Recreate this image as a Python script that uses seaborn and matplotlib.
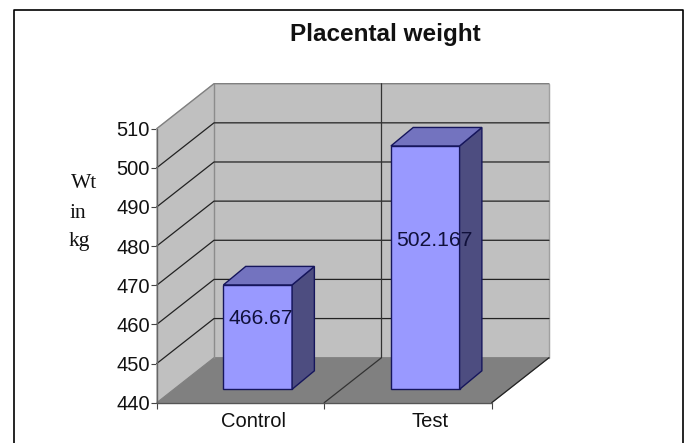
#!/bin/python3
import matplotlib
matplotlib.use("Agg")
import matplotlib.pyplot as plt
from matplotlib.lines import Line2D
from matplotlib.patches import Polygon
import seaborn as sns

categories = ["Control", "Test"]
weights = [466.67, 502.167]
value_labels = ["466.67", "502.167"]
y_ticks = [440, 450, 460, 470, 480, 490, 500, 510]

W, H = 687, 443
WALL = "#c0c0c0"
FLOOR = "#808080"
FRONT = "#9999ff"
TOP = "#7373bf"
SIDE = "#4d4d80"
EDGE = "#16165c"

sns.set_style("white")
plt.rcParams["font.family"] = ["Liberation Sans", "DejaVu Sans"]


def px_axes(fig, left, right, top, bottom):
    # axes position from picture pixels
    return fig.add_axes([left / W, 1 - bottom / H, (right - left) / W, (bottom - top) / H])


fig = plt.figure(figsize=(W / 100, H / 100), dpi=100)
ax = px_axes(fig, 156.7, 491.7, 128.7, 402.7)
ax_bar = px_axes(fig, 174, 509, 115.3, 389.3)

ax.set_xlim(-0.5, 1.5)
ax.set_ylim(440, 510)
ax.patch.set_visible(False)
for s in ax.spines.values():
    s.set_visible(False)

# depth of the floor, in data units of the front plane
dx = 57.3 / 167.5
dy = 45 / 3.914
x0, x1 = ax.get_xlim()
y0, y1 = ax.get_ylim()


def poly(pts, color, z):
    ax.add_patch(Polygon(pts, closed=True, facecolor=color, edgecolor=color, lw=0.8,
                         clip_on=False, zorder=z))


poly([(x0 + dx, y0 + dy), (x1 + dx, y0 + dy), (x1 + dx, y1 + dy), (x0 + dx, y1 + dy)], WALL, 1)
poly([(x0, y0), (x0 + dx, y0 + dy), (x0 + dx, y1 + dy), (x0, y1)], WALL, 1)
poly([(x0, y0), (x1, y0), (x1 + dx, y0 + dy), (x0 + dx, y0 + dy)], FLOOR, 2)

# wall outline
ax.plot([x0 + dx, x0 + dx], [y0 + dy, y1 + dy], color="#8c8c8c", lw=1, clip_on=False, zorder=3)
ax.plot([x1 + dx, x1 + dx], [y0 + dy, y1 + dy], color="#a0a0a0", lw=1, clip_on=False, zorder=3)
ax.plot([x0, x0 + dx, x1 + dx], [y1, y1 + dy, y1 + dy], color="#808080", lw=1, clip_on=False, zorder=3)

for t in y_ticks[1:-1]:
    ax.plot([x0, x0 + dx, x1 + dx], [t, t + dy, t + dy], color="#222222", lw=0.9, clip_on=False, zorder=3)

# divider between the categories, back wall and floor
ax.plot([0.5, 0.5 + dx, 0.5 + dx], [y0, y0 + dy, y1 + dy], color="#333333", lw=0.9, clip_on=False, zorder=3)
ax.plot([x1, x1 + dx], [y0, y0 + dy], color="#222222", lw=0.9, clip_on=False, zorder=3)

# front axes lines
ax.plot([x0, x0], [y0, y1], color="#666666", lw=1, clip_on=False, zorder=4)
ax.plot([x0, x1], [y0, y0], color="#555555", lw=1, clip_on=False, zorder=4)

ax.set_yticks(y_ticks)
ax.set_xticks([-0.5, 0.5, 1.5])
ax.set_xticklabels([])
ax.tick_params(axis="both", which="major", length=4, width=0.8, color="#444444", pad=1,
               labelsize=14.5, labelcolor="#111111", left=True, bottom=True)
ax.set_xticks([0.079, 1.135], minor=True)
ax.set_xticklabels(categories, minor=True)
ax.tick_params(axis="x", which="minor", length=0, pad=7, labelsize=14.5, labelcolor="#111111")
ax.grid(False)

sns.barplot(x=categories, y=weights, ax=ax_bar, color=FRONT, saturation=1, width=0.41,
            edgecolor=EDGE, linewidth=1)
ax_bar.set_ylim(440, 510)
ax_bar.axis("off")
ax_bar.patch.set_visible(False)

# side and top faces of the bars, and the value labels
bar_dx = 22.3 / 167.5
bar_dy = 18.5 / 3.914
label_y = [458, 478]
label_shift = [2.8 / 167.5, 8.8 / 167.5]
for p, v, lab, ly, sh in zip(ax_bar.patches, weights, value_labels, label_y, label_shift):
    p.set_y(440)
    p.set_height(v - 440)
    p.set_clip_on(False)
    l, r = p.get_x(), p.get_x() + p.get_width()
    ax_bar.add_patch(Polygon([(r, 440), (r + bar_dx, 440 + bar_dy), (r + bar_dx, v + bar_dy), (r, v)],
                             facecolor=SIDE, edgecolor=EDGE, lw=1, clip_on=False))
    ax_bar.add_patch(Polygon([(l, v), (r, v), (r + bar_dx, v + bar_dy), (l + bar_dx, v + bar_dy)],
                             facecolor=TOP, edgecolor=EDGE, lw=1, clip_on=False))
    ax_bar.text((l + r) / 2 + sh, ly, lab, ha="center", va="center", fontsize=15.2, color="#10103a",
                zorder=6, clip_on=False)

fig.text(385 / W, 1 - 34 / H, "Placental weight", ha="center", va="center", fontsize=17.5,
         fontweight="bold", color="#111111")
for word, x_px, base_px in [("Wt", 71, 188), ("in", 69, 218), ("kg", 69, 246)]:
    fig.text(x_px / W, 1 - base_px / H, word, ha="left", va="baseline", fontsize=15.5,
             family=["Liberation Serif", "DejaVu Serif"], color="#111111")

# chart frame, open at the bottom edge of the picture
fig.add_artist(Line2D([13.5 / W, 13.5 / W, 683 / W, 683 / W], [0, 1 - 9.5 / H, 1 - 9.5 / H, 0],
                      color="black", lw=1.2))

plt.savefig("out.png", dpi=100)
